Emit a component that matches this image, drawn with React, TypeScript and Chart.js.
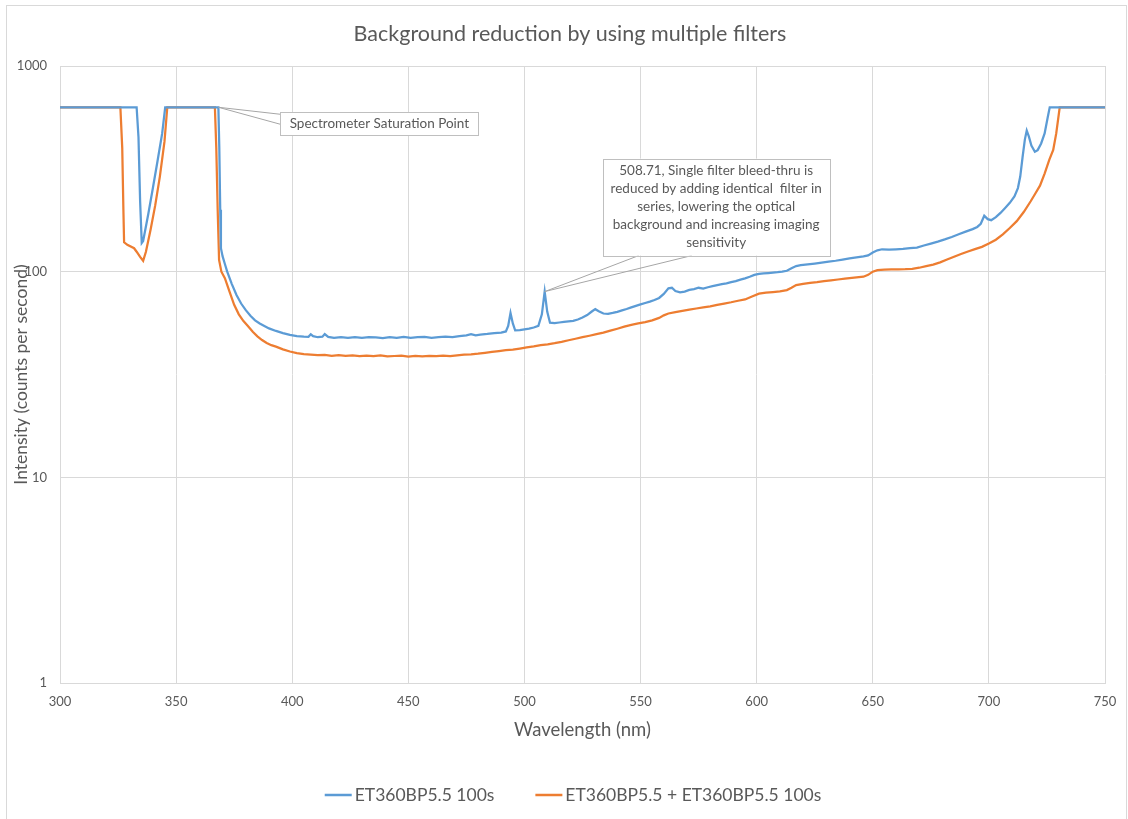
import { useEffect, useRef } from "react";
import { Chart, registerables } from "chart.js";

Chart.register(...registerables);

// ---------- data ----------
const chartTitle = "Background reduction by using multiple filters";
const xAxisTitle = "Wavelength (nm)";
const yAxisTitle = "Intensity (counts per second)";
const seriesLabels = ["ET360BP5.5 100s", "ET360BP5.5 + ET360BP5.5 100s"];
const seriesColors = ["#5B9BD5", "#ED7D31"];
const yTickValues = [1, 10, 100, 1000];
const xMin = 300;
const xMax = 750;
const xStep = 50;

// [wavelength nm, counts per second]
const singleFilter: [number, number][] = [
  [300, 630], [333, 630], [333.8, 450], [334.5, 220], [335.2, 138], [335.8, 141], [338, 190], [340, 255],
  [342, 345], [344, 470], [345.3, 630], [368.2, 630], [368.6, 400], [369.0, 200], [369.3, 130], [370, 119],
  [371, 109], [372, 100], [374, 87], [376, 77], [378, 70], [380, 65], [382, 61], [384, 58], [386, 56],
  [388, 54.5], [390, 53], [393, 51.5], [396, 50.3], [399, 49.3], [402, 48.6], [405, 48.3], [407, 48.2],
  [408, 49.6], [409, 48.6], [411, 48], [413, 48.3], [414, 49.7], [415.5, 48.2], [418, 47.6], [421, 48.0],
  [424, 47.7], [427, 48.1], [430, 47.6], [433, 48.0], [436, 47.9], [439, 47.5], [442, 48.1], [445, 47.7],
  [448, 48.2], [451, 47.6], [454, 48.0], [457, 48.2], [460, 47.7], [463, 48.0], [466, 48.3], [469, 48.1],
  [472, 48.6], [475, 49.0], [477, 49.7], [479, 49.0], [481, 49.4], [484, 49.8], [487, 50.3], [490, 50.6],
  [492, 51.2], [493, 54.5], [494, 63], [495, 56], [496, 51.8], [498, 52.0], [500, 52.4], [502, 52.8],
  [504, 53.5], [506, 54.5], [507.5, 62], [508.71, 80], [509.8, 64], [511, 56.5], [513, 56.2], [515, 56.6],
  [517, 57.0], [519, 57.3], [521, 57.6], [523, 58.5], [525, 59.8], [527, 61.5], [529, 64], [530.5, 65.7],
  [532, 64.2], [534, 62.6], [536, 62.4], [538, 63], [540, 63.8], [542, 64.8], [544, 65.8], [546, 67],
  [548, 68.2], [550, 69.3], [552, 70.4], [554, 71.5], [556, 72.8], [558, 74.5], [560, 78], [562, 83],
  [563.5, 83.5], [565, 80.5], [567, 79.3], [569, 80], [571, 81.5], [573, 82.3], [575, 83.5], [577, 82.8],
  [579, 84], [581, 85], [583, 86], [585, 87], [587, 87.8], [589, 88.9], [591, 90], [593, 91.5], [595, 92.8],
  [597, 94.5], [599, 96.5], [601, 97.5], [603, 98], [605, 98.5], [607, 99], [609, 99.4], [611, 100],
  [613, 101], [615, 104], [617, 106.5], [619, 107.5], [622, 108.5], [625, 109.5], [628, 110.7], [631, 112],
  [634, 113], [637, 114.5], [640, 116], [643, 117.3], [646, 118.6], [648, 120], [650, 124], [652, 127],
  [654, 128.5], [657, 128], [660, 128.5], [663, 129], [666, 130], [669, 131], [672, 134], [675, 137],
  [678, 140], [681, 143.5], [684, 147.5], [687, 152], [690, 156.5], [693, 161], [695, 165], [696.5, 171],
  [698, 187], [699.5, 180], [701, 178], [703, 184], [705, 193], [707, 204], [709, 216], [711, 232],
  [712.5, 255], [713.5, 290], [714.5, 360], [715.5, 440], [716.3, 485], [717.2, 455], [718.3, 410],
  [719.8, 383], [721, 390], [722.5, 420], [724, 470], [725.3, 560], [726.2, 630], [750, 630],
];

const doubleFilter: [number, number][] = [
  [300, 630], [326, 630], [326.8, 400], [327.3, 200], [327.6, 139], [329, 135], [331.9, 130], [333, 125],
  [334.5, 118], [335.8, 113], [337, 125], [339, 160], [341, 210], [343, 290], [345, 430], [346.2, 630],
  [366.7, 630], [367.3, 400], [367.9, 200], [368.5, 114], [369.5, 100], [371, 93], [373, 80], [375, 69],
  [377, 62], [379, 57.5], [381, 54.3], [383, 51], [385, 48.5], [387, 46.5], [389, 45], [391, 43.9],
  [393, 43.2], [396, 41.9], [399, 40.9], [402, 40.2], [405, 39.7], [408, 39.5], [411, 39.3], [414, 39.4],
  [417, 39.0], [420, 39.3], [423, 39.0], [426, 39.2], [429, 38.9], [432, 39.1], [435, 38.8], [438, 39.2],
  [441, 38.7], [444, 38.9], [447, 39.1], [450, 38.6], [453, 38.9], [456, 38.7], [459, 39.0], [462, 38.8],
  [465, 39.1], [468, 38.9], [471, 39.2], [474, 39.5], [477, 39.6], [480, 39.9], [483, 40.3], [486, 40.7],
  [489, 41.1], [492, 41.5], [495, 41.8], [498, 42.3], [501, 42.8], [504, 43.3], [507, 43.9], [510, 44.3],
  [513, 44.9], [516, 45.6], [519, 46.4], [522, 47.2], [525, 48.0], [528, 48.8], [531, 49.7], [534, 50.5],
  [537, 51.7], [540, 52.8], [543, 54.0], [546, 55.1], [549, 56.0], [552, 56.8], [555, 58.0], [558, 59.6],
  [560, 61.3], [562, 62.6], [565, 63.6], [568, 64.5], [571, 65.3], [574, 66.2], [577, 67.0], [580, 67.8],
  [583, 68.9], [586, 70.0], [589, 71.0], [592, 72.2], [595, 73.3], [598, 75.8], [601, 78.2], [604, 79.0],
  [607, 79.6], [610, 80.2], [613, 81.4], [615, 83.5], [617, 86.0], [620, 87.3], [623, 88.2], [626, 89.0],
  [629, 90.0], [632, 90.8], [635, 91.6], [638, 92.5], [641, 93.2], [644, 94.0], [646, 94.5], [648, 96.5],
  [650, 100], [652, 101.8], [655, 102.2], [658, 102.5], [661, 102.6], [664, 102.8], [667, 103.3],
  [670, 104.5], [673, 106.3], [676, 108.3], [679, 111], [682, 114.5], [685, 118.2], [688, 121.8],
  [691, 125.4], [694, 128.7], [697, 132], [700, 137], [703, 143], [706, 152], [709, 163], [712, 176],
  [715, 195], [718, 220], [720, 240], [722, 262], [724, 300], [726, 350], [727.7, 391], [729, 470],
  [730.5, 630], [750, 630],
];

// callouts: anchor point (data) + text lines
const saturationAnchor: [number, number] = [368.2, 630];
const saturationText = ["Spectrometer Saturation Point"];
const bleedAnchor: [number, number] = [508.71, 80];
const bleedText = [
  "508.71, Single filter bleed-thru is",
  "reduced by adding identical  filter in",
  "series, lowering the optical",
  "background and increasing imaging",
  "sensitivity",
];

const FONT = "Lato, 'Open Sans', sans-serif";
const TEXT_COLOR = "#595959";
const GRID_COLOR = "#D9D9D9";

const overlayPlugin = {
  id: "overlay",
  afterDraw(chart: any) {
    const ctx: CanvasRenderingContext2D = chart.ctx;
    const area = chart.chartArea;
    const xs = chart.scales.x;
    const ys = chart.scales.y;
    ctx.save();

    // outer border
    ctx.strokeStyle = GRID_COLOR;
    ctx.lineWidth = 1;
    ctx.strokeRect(6.5, 5.5, 1120, 830);

    // title
    ctx.fillStyle = TEXT_COLOR;
    ctx.textAlign = "center";
    ctx.textBaseline = "middle";
    ctx.font = `21.5px ${FONT}`;
    ctx.fillText(chartTitle, 570, 34);

    // axis titles
    ctx.font = `18.5px ${FONT}`;
    ctx.fillText(xAxisTitle, (area.left + area.right) / 2, 730);
    ctx.save();
    ctx.translate(21, (area.top + area.bottom) / 2);
    ctx.rotate(-Math.PI / 2);
    ctx.font = `17.5px ${FONT}`;
    ctx.fillText(yAxisTitle, 0, 0);
    ctx.restore();

    // legend
    ctx.font = `17.5px ${FONT}`;
    const lineLen = 27;
    const gap = 3;
    const itemGap = 41;
    const widths = seriesLabels.map((l) => ctx.measureText(l).width);
    const total = widths.reduce((s, w) => s + lineLen + gap + w, 0) + itemGap * (seriesLabels.length - 1);
    let lx = 573 - total / 2;
    const ly = 795;
    ctx.textAlign = "left";
    seriesLabels.forEach((label, i) => {
      ctx.strokeStyle = seriesColors[i];
      ctx.lineWidth = 2.5;
      ctx.beginPath();
      ctx.moveTo(lx, ly);
      ctx.lineTo(lx + lineLen, ly);
      ctx.stroke();
      ctx.fillStyle = TEXT_COLOR;
      ctx.fillText(label, lx + lineLen + gap, ly);
      lx += lineLen + gap + widths[i] + itemGap;
    });

    // callouts
    const drawBox = (x: number, y: number, w: number, h: number, lines: string[], lh: number) => {
      ctx.fillStyle = "#FFFFFF";
      ctx.fillRect(x, y, w, h);
      ctx.strokeStyle = "#BFBFBF";
      ctx.lineWidth = 1;
      ctx.strokeRect(Math.round(x) + 0.5, Math.round(y) + 0.5, w, h);
      ctx.fillStyle = TEXT_COLOR;
      ctx.font = `13.5px ${FONT}`;
      ctx.textAlign = "center";
      ctx.textBaseline = "middle";
      const startY = y + h / 2 - ((lines.length - 1) * lh) / 2;
      lines.forEach((t, i) => ctx.fillText(t, x + w / 2, startY + i * lh));
    };
    const wedge = (ax: number, ay: number, p1: [number, number], p2: [number, number]) => {
      ctx.strokeStyle = "#A6A6A6";
      ctx.lineWidth = 1;
      ctx.beginPath();
      ctx.moveTo(p1[0], p1[1]);
      ctx.lineTo(ax, ay);
      ctx.lineTo(p2[0], p2[1]);
      ctx.stroke();
    };

    // saturation callout
    const sx = xs.getPixelForValue(saturationAnchor[0]);
    const sy = ys.getPixelForValue(saturationAnchor[1]);
    const b1 = { x: sx + 62, y: sy + 5, w: 198, h: 23 };
    wedge(sx, sy, [b1.x, b1.y + 2], [b1.x, b1.y + 12]);
    drawBox(b1.x, b1.y, b1.w, b1.h, saturationText, 18);

    // bleed-thru callout
    const bx = xs.getPixelForValue(bleedAnchor[0]);
    const by = ys.getPixelForValue(bleedAnchor[1]);
    const b2 = { x: bx + 58, y: by - 133, w: 227, h: 97 };
    wedge(bx, by, [bx + 94, b2.y + b2.h], [bx + 147, b2.y + b2.h]);
    drawBox(b2.x, b2.y, b2.w, b2.h, bleedText, 18);

    ctx.restore();
  },
};

export default function App() {
  const canvasRef = useRef<HTMLCanvasElement | null>(null);

  useEffect(() => {
    if (!canvasRef.current) return;
    const chart = new Chart(canvasRef.current, {
      type: "scatter",
      data: {
        datasets: [
          {
            label: seriesLabels[0],
            data: singleFilter.map(([x, y]) => ({ x, y })),
            borderColor: seriesColors[0],
            backgroundColor: seriesColors[0],
            borderWidth: 2.25,
            showLine: true,
            pointRadius: 0,
            tension: 0,
          },
          {
            label: seriesLabels[1],
            data: doubleFilter.map(([x, y]) => ({ x, y })),
            borderColor: seriesColors[1],
            backgroundColor: seriesColors[1],
            borderWidth: 2.25,
            showLine: true,
            pointRadius: 0,
            tension: 0,
          },
        ],
      },
      options: {
        responsive: false,
        animation: false,
        devicePixelRatio: 1,
        layout: { padding: { top: 66, left: 0, right: 23, bottom: 0 } },
        plugins: {
          legend: { display: false },
          title: { display: false },
          tooltip: { enabled: false },
        },
        scales: {
          x: {
            type: "linear",
            min: xMin,
            max: xMax,
            ticks: {
              stepSize: xStep,
              color: TEXT_COLOR,
              font: { family: FONT, size: 13 },
              padding: 11,
              maxRotation: 0,
            },
            grid: { color: GRID_COLOR, drawTicks: false, lineWidth: 1 },
            border: { color: GRID_COLOR },
            afterFit(scale: any) {
              scale.height = 136;
              scale.paddingLeft = 0;
              scale.paddingRight = 0;
            },
          },
          y: {
            type: "logarithmic",
            min: 1,
            max: 1000,
            afterBuildTicks(scale: any) {
              scale.ticks = yTickValues.map((v) => ({ value: v }));
            },
            ticks: {
              color: TEXT_COLOR,
              font: { family: FONT, size: 13 },
              padding: 13,
              callback: (v: any) => String(v),
            },
            grid: { color: GRID_COLOR, drawTicks: false, lineWidth: 1 },
            border: { color: GRID_COLOR },
            afterFit(scale: any) {
              scale.width = 60;
              scale.paddingTop = 0;
              scale.paddingBottom = 0;
            },
          },
        },
      },
      plugins: [overlayPlugin],
    });
    return () => chart.destroy();
  }, []);

  return (
    <div style={{ position: "absolute", left: 0, top: 0, width: 1128, height: 819, background: "#fff" }}>
      <canvas ref={canvasRef} width={1128} height={819} />
    </div>
  );
}
